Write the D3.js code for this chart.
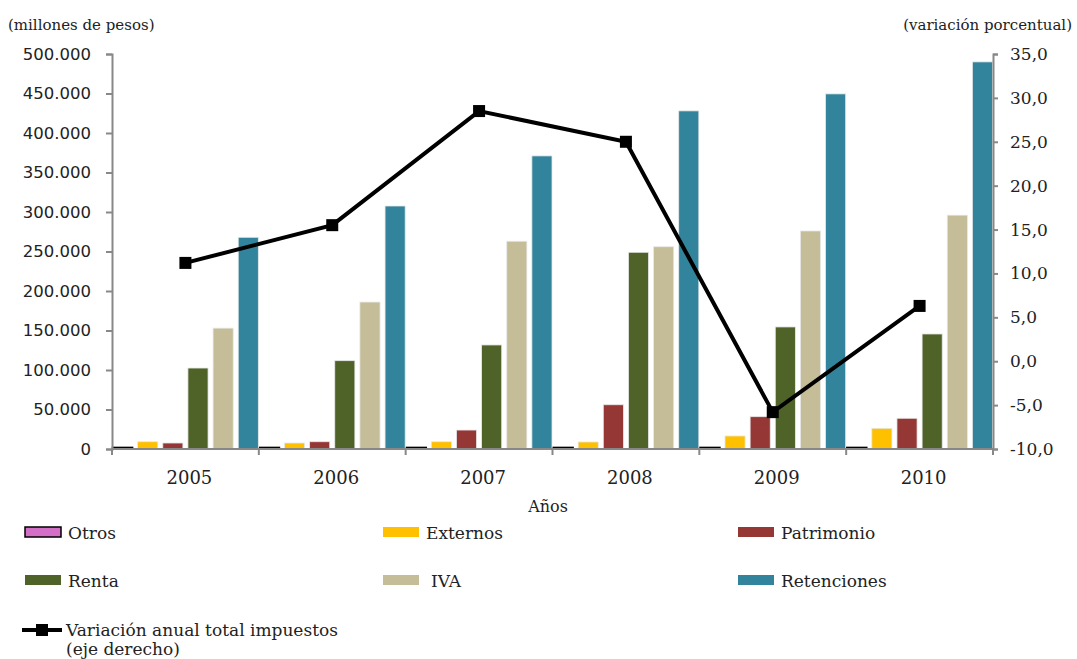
<!DOCTYPE html>
<html><head><meta charset="utf-8">
<script src="https://cdn.jsdelivr.net/npm/d3@7"></script>
<style>body{margin:0;background:#fff}svg{display:block}</style>
</head><body>
<svg id="c" width="1077" height="659"></svg>
<script>
const years = ["2005","2006","2007","2008","2009","2010"];
const seriesNames = ["Otros","Externos","Patrimonio","Renta","IVA","Retenciones"];
const otros = [2000, 2000, 2000, 2000, 2000, 2000];
const externos = [9200, 7600, 9200, 8900, 16500, 26200];
const patrimonio = [7600, 9200, 24000, 56000, 40900, 38900];
const renta = [102500, 111800, 131700, 249000, 154500, 145600];
const iva = [153000, 186000, 263000, 256000, 276000, 296000];
const retenciones = [268000, 307600, 371000, 428000, 449500, 490000];
const variacion = [11.2, 15.5, 28.5, 25.0, -5.8, 6.3];
const leftTicks = [0,50000,100000,150000,200000,250000,300000,350000,400000,450000,500000];
const rightTicks = [-10,-5,0,5,10,15,20,25,30,35];
const colors = ["#D36FC6","#FFC000","#953735","#4F6228","#C4BD97","#31849B"];
const seriesVals = [otros, externos, patrimonio, renta, iva, retenciones];

const svg = d3.select("#c");
const L = 112, R = 993, T = 54, B = 449;
const serif = "'DejaVu Serif', serif";
const sans = "'DejaVu Sans', sans-serif";

const x = d3.scaleBand().domain(years).range([L, R]).paddingInner(0).paddingOuter(0);
const xs = d3.scaleBand().domain(seriesNames).range([0, x.bandwidth()]).paddingInner(0.2).paddingOuter(0.02);
const y = d3.scaleLinear().domain([0, 500000]).range([B, T]);
const y2 = d3.scaleLinear().domain([-10, 35]).range([B, T]);

// bars
seriesNames.forEach((s, si) => {
  svg.append("g").selectAll("rect").data(years).join("rect")
    .attr("x", d => x(d) + xs(s))
    .attr("width", xs.bandwidth())
    .attr("y", (d, i) => y(seriesVals[si][i]))
    .attr("height", (d, i) => y(0) - y(seriesVals[si][i]))
    .attr("fill", colors[si])
    .attr("stroke", si === 0 ? "#000" : "#e8e8e8")
    .attr("stroke-width", si === 0 ? 1.5 : 0.8);
});

// axes
const fmtL = d => d3.format(",")(d).replace(/,/g, ".");
const ga = svg.append("g").attr("transform", `translate(${L},0)`)
  .call(d3.axisLeft(y).tickValues(leftTicks).tickFormat(fmtL).tickSize(6).tickPadding(15));
ga.selectAll("text").attr("font-family", sans).attr("font-size", 16.5).attr("fill", "#222");
const gr = svg.append("g").attr("transform", `translate(${R},0)`)
  .call(d3.axisRight(y2).tickValues(rightTicks).tickFormat(d => d3.format(".1f")(d).replace(".", ",").replace("−","-")).tickSize(5).tickPadding(12));
gr.selectAll("text").attr("font-family", serif).attr("font-size", 17).attr("fill", "#222");
const gb = svg.append("g").attr("transform", `translate(0,${B})`)
  .call(d3.axisBottom(x).tickSize(0).tickPadding(22));
gb.selectAll("text").attr("font-family", serif).attr("font-size", 18).attr("fill", "#222").attr("dx", 4);
// category boundary ticks
svg.append("g").selectAll("line").data(years.concat(["end"])).join("line")
  .attr("x1", (d, i) => i < years.length ? x(d) : R)
  .attr("x2", (d, i) => i < years.length ? x(d) : R)
  .attr("y1", B).attr("y2", B + 6).attr("stroke", "#888").attr("stroke-width", 2);
[ga, gr, gb].forEach(g => {
  g.selectAll("path,line").attr("stroke", "#888").attr("stroke-width", 2);
});
gb.select("path").attr("d", `M${L},0H${R}`);

// line
const cx = d => x(d) + x.bandwidth() / 2;
svg.append("path").datum(variacion)
  .attr("d", d3.line().x((d, i) => cx(years[i])).y(d => y2(d)))
  .attr("fill", "none").attr("stroke", "#000").attr("stroke-width", 4);
svg.append("g").selectAll("rect").data(variacion).join("rect")
  .attr("x", (d, i) => cx(years[i]) - 6).attr("y", d => y2(d) - 6)
  .attr("width", 12).attr("height", 12).attr("fill", "#000");

// titles
svg.append("text").attr("x", 8).attr("y", 30).text("(millones de pesos)")
  .attr("font-family", serif).attr("font-size", 15).attr("fill", "#222");
svg.append("text").attr("x", 1072).attr("y", 30).attr("text-anchor", "end").text("(variación porcentual)")
  .attr("font-family", serif).attr("font-size", 15).attr("fill", "#222");
svg.append("text").attr("x", 548).attr("y", 512).attr("text-anchor", "middle").text("Años")
  .attr("font-family", serif).attr("font-size", 16).attr("fill", "#222");

// legend
const legX = [23, 381, 736], legY = [533, 581];
seriesNames.forEach((s, i) => {
  const lx = legX[i % 3], ly = legY[Math.floor(i / 3)];
  svg.append("rect").attr("x", lx + 2).attr("y", ly - 6).attr("width", 36).attr("height", 10)
    .attr("fill", colors[i]).attr("stroke", i === 0 ? "#000" : "none").attr("stroke-width", 1.5);
  svg.append("text").attr("x", lx + 45 + (s === "IVA" ? 5 : 0)).attr("y", ly + 6).text(s)
    .attr("font-family", serif).attr("font-size", 17).attr("fill", "#222");
});
svg.append("line").attr("x1", 22).attr("x2", 62).attr("y1", 630).attr("y2", 630).attr("stroke", "#000").attr("stroke-width", 4);
svg.append("rect").attr("x", 36).attr("y", 624).attr("width", 12).attr("height", 12).attr("fill", "#000");
svg.append("text").attr("x", 66).attr("y", 636).text("Variación anual total impuestos")
  .attr("font-family", serif).attr("font-size", 17).attr("fill", "#222");
svg.append("text").attr("x", 66).attr("y", 655).text("(eje derecho)")
  .attr("font-family", serif).attr("font-size", 17).attr("fill", "#222");
</script>
</body></html>
